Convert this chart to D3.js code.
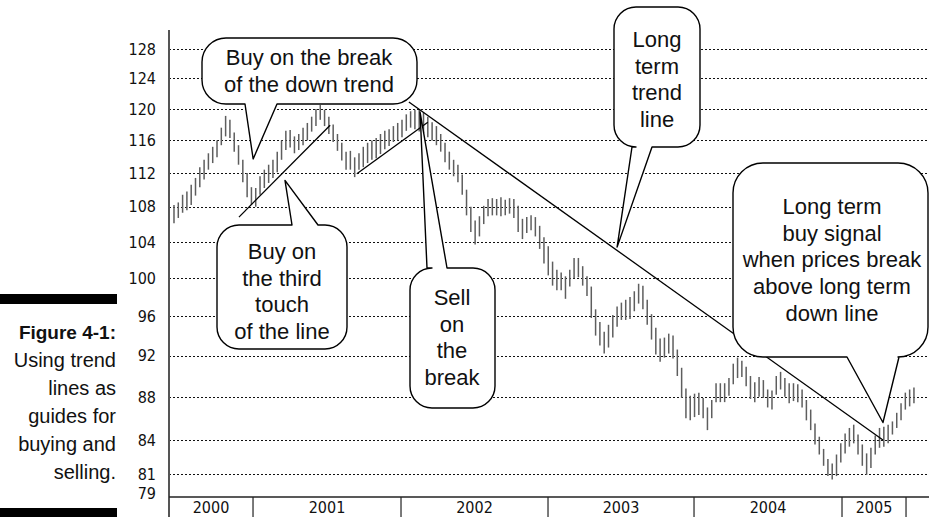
<!DOCTYPE html>
<html>
<head>
<meta charset="utf-8">
<script src="https://cdn.jsdelivr.net/npm/d3@7"></script>
<style>
body { margin: 0; background: #fff; }
svg { display: block; }
.tick-label { font-family: "Liberation Sans Narrow", "DejaVu Sans Condensed", sans-serif; font-size: 16px; fill: #111; }
.callout text { font-family: "Liberation Sans", Arial, sans-serif; font-size: 22px; fill: #111; }
.caption { font-family: "Liberation Sans", Arial, sans-serif; font-size: 20px; fill: #111; }
</style>
</head>
<body>
<div id="chart-area"></div>
<script>
// price bars (high / low), one per bar index
const barHigh = [
	108.2, 108.5, 109.4, 109.8, 110.6, 111.4, 112.7, 113.6, 114.4, 115.2,
	116.0, 117.6, 119.1, 118.6, 117.0, 115.4, 113.6, 112.0, 110.3, 110.2,
	111.6, 112.4, 113.0, 113.6, 114.6, 116.0, 117.2, 117.3, 116.5, 116.8,
	117.6, 118.2, 119.0, 120.0, 120.5, 119.9, 119.0, 118.0, 116.8, 115.7,
	114.6, 114.7, 113.9, 114.4, 115.2, 115.7, 116.0, 116.3, 116.8, 117.2,
	117.4, 117.8, 118.2, 118.6, 119.3, 119.7, 119.9, 119.9, 119.5, 119.0,
	118.3, 117.8, 116.8, 115.7, 114.6, 113.6, 113.0, 111.8, 110.0, 108.0,
	106.4, 106.9, 108.1, 108.9, 109.0, 108.9, 109.1, 108.8, 109.0, 108.9,
	108.1, 106.6, 106.8, 107.0, 106.8, 105.8, 104.5, 103.5, 101.8, 100.9,
	100.6, 100.2, 100.9, 102.2, 102.2, 101.3, 100.2, 99.1, 96.7, 95.4,
	94.4, 95.1, 96.1, 97.0, 97.4, 97.7, 98.0, 98.6, 99.4, 99.2,
	97.7, 96.2, 94.8, 93.7, 93.8, 94.2, 94.0, 92.6, 90.8, 88.8,
	88.1, 88.3, 88.4, 87.9, 87.0, 87.7, 89.3, 89.3, 89.3, 89.8,
	91.2, 91.8, 91.5, 90.9, 90.0, 89.4, 89.9, 89.6, 88.7, 88.6,
	90.0, 90.4, 89.8, 89.3, 89.3, 89.2, 88.7, 87.7, 86.8, 85.5,
	84.3, 83.2, 82.3, 81.9, 82.7, 83.7, 84.6, 85.1, 85.4, 84.5,
	83.6, 82.8, 83.3, 84.4, 85.1, 85.2, 85.4, 85.7, 86.5, 87.4,
	88.4, 88.7, 88.9
]
const barLow = [
	106.1, 106.7, 107.3, 107.6, 108.2, 109.3, 110.3, 111.2, 112.4, 113.2,
	113.9, 115.4, 116.5, 116.3, 114.6, 113.0, 110.9, 109.1, 108.2, 108.0,
	109.4, 110.2, 110.8, 111.4, 112.1, 113.6, 114.8, 115.1, 114.4, 114.8,
	115.4, 116.0, 117.1, 117.8, 118.6, 117.8, 116.8, 115.8, 114.7, 113.5,
	112.4, 112.4, 111.5, 112.4, 112.7, 113.2, 113.6, 113.8, 114.3, 114.9,
	115.3, 115.8, 116.0, 116.4, 117.2, 117.6, 117.4, 117.1, 116.9, 116.4,
	116.0, 115.4, 114.6, 113.3, 112.4, 111.6, 110.9, 109.4, 107.0, 105.1,
	103.7, 104.6, 106.0, 106.9, 107.0, 107.0, 106.9, 107.0, 107.2, 106.7,
	105.1, 104.3, 105.0, 105.3, 104.6, 103.2, 101.6, 100.3, 99.2, 98.7,
	98.7, 97.8, 99.1, 100.0, 100.1, 99.2, 98.1, 95.8, 94.0, 93.0,
	92.2, 92.8, 93.8, 94.9, 95.6, 95.6, 95.7, 96.5, 97.3, 96.7,
	95.1, 93.6, 92.1, 91.4, 91.8, 92.2, 91.7, 90.0, 87.9, 86.0,
	85.8, 86.1, 86.3, 86.0, 84.9, 86.0, 87.5, 87.5, 87.5, 88.1,
	89.2, 89.8, 89.9, 89.0, 87.8, 87.5, 88.0, 87.9, 87.0, 86.8,
	88.2, 88.7, 88.0, 87.4, 87.6, 87.5, 87.0, 85.8, 84.9, 83.6,
	82.7, 81.7, 80.8, 80.5, 80.8, 82.0, 82.8, 83.4, 83.7, 82.7,
	81.7, 80.9, 81.5, 82.7, 83.3, 83.4, 83.7, 84.5, 85.1, 85.8,
	86.8, 87.1, 87.4
]

// axis labels
const priceTicks = [128, 124, 120, 116, 112, 108, 104, 100, 96, 92, 88, 84, 81, 79]
const gridTicks = [128, 124, 120, 116, 112, 108, 104, 100, 96, 92, 88, 84, 81]
const years = ["2000", "2001", "2002", "2003", "2004", "2005"]
// year boundaries, in bar-index units
const yearEdges = [18.37, 52.77, 86.94, 120.88, 155.28, 170.16]

// trend lines drawn on the chart: [barIndex, price] pairs
const trendLines = [
	[[15.1, 106.8], [36.3, 117.9]],
	[[42.5, 111.9], [59.0, 118.3]],
	[[54.6, 120.9], [164.8, 84.0]]
]

const captionLines = ["Using trend", "lines as", "guides for", "buying and", "selling."]

const W = 929, H = 517
const AXIS_X = 169, AXIS_Y = 497

const svg = d3.select("#chart-area").append("svg")
	.attr("width", W)
	.attr("height", H)

const x = d3.scaleLinear()
	.domain([-1.16, 175.5])
	.range([AXIS_X, W])

const y = d3.scaleLog()
	.domain([79, 128])
	.range([AXIS_Y, 49])

// dotted grid, snapped to the pixel grid so the dots stay dark
svg.append("g").selectAll("line")
	.data(gridTicks)
	.enter().append("line")
	.attr("x1", AXIS_X)
	.attr("x2", W)
	.attr("y1", d => Math.round(y(d)) + 0.5)
	.attr("y2", d => Math.round(y(d)) + 0.5)
	.attr("stroke", "#111")
	.attr("stroke-width", 1)
	.attr("stroke-dasharray", "2,2")

// price labels
svg.append("g").selectAll("text")
	.data(priceTicks)
	.enter().append("text")
	.attr("class", "tick-label")
	.attr("x", 156)
	.attr("y", d => Math.min(y(d), 493))
	.attr("dy", "0.36em")
	.attr("text-anchor", "end")
	.text(d => d)

// high-low bars
svg.append("g").selectAll("line")
	.data(barHigh)
	.enter().append("line")
	.attr("x1", (d, i) => x(i))
	.attr("x2", (d, i) => x(i))
	.attr("y1", d => y(d))
	.attr("y2", (d, i) => y(barLow[i]))
	.attr("stroke", "#5e5e5e")
	.attr("stroke-width", 1.5)

// trend lines
svg.append("g").selectAll("line")
	.data(trendLines)
	.enter().append("line")
	.attr("x1", d => x(d[0][0]))
	.attr("y1", d => y(d[0][1]))
	.attr("x2", d => x(d[1][0]))
	.attr("y2", d => y(d[1][1]))
	.attr("stroke", "#000")
	.attr("stroke-width", 1.3)

// callouts: box in pixels, tail tip in data units
const callouts = [
	{box: [202, 38, 417, 104, 24], side: "bottom", base: [245, 277], tip: [18.4, 113.7],
		lines: ["Buy on the break", "of the down trend"], cx: 309, top: 65},
	{box: [217, 225, 347, 349, 22], side: "top", base: [292, 318], tip: [25.8, 111.1],
		lines: ["Buy on", "the third", "touch", "of the line"], cx: 282, top: 259},
	{box: [410, 268, 495, 408, 22], side: "top", base: [427, 447], tip: [57.2, 119.6],
		lines: ["Sell", "on", "the", "break"], cx: 452, top: 305},
	{box: [614, 7, 700, 147, 22], side: "bottom", base: [632, 652], tip: [103.0, 103.4],
		lines: ["Long", "term", "trend", "line"], cx: 657, top: 47},
	{box: [733, 163, 928, 357, 30], side: "bottom", base: [847, 899], tip: [164.8, 85.6],
		lines: ["Long term", "buy signal", "when prices break", "above long term", "down line"], cx: 832, top: 214}
]

function calloutPath(c) {
	const [x0, y0, x1, y1, r] = c.box
	const tx = x(c.tip[0]), ty = y(c.tip[1])
	const p = d3.path()
	p.moveTo(x0 + r, y0)
	if (c.side == "top") {
		p.lineTo(c.base[0], y0)
		p.lineTo(tx, ty)
		p.lineTo(c.base[1], y0)
	}
	p.lineTo(x1 - r, y0)
	p.arcTo(x1, y0, x1, y0 + r, r)
	p.lineTo(x1, y1 - r)
	p.arcTo(x1, y1, x1 - r, y1, r)
	if (c.side == "bottom") {
		p.lineTo(c.base[1], y1)
		p.lineTo(tx, ty)
		p.lineTo(c.base[0], y1)
	}
	p.lineTo(x0 + r, y1)
	p.arcTo(x0, y1, x0, y1 - r, r)
	p.lineTo(x0, y0 + r)
	p.arcTo(x0, y0, x0 + r, y0, r)
	p.closePath()
	return p.toString()
}

const cg = svg.selectAll(".callout")
	.data(callouts)
	.enter().append("g")
	.attr("class", "callout")

cg.append("path")
	.attr("d", calloutPath)
	.attr("fill", "#fff")
	.attr("stroke", "#000")
	.attr("stroke-width", 1.4)
	.attr("stroke-linejoin", "round")

cg.each(function (c) {
	d3.select(this).selectAll("text")
		.data(c.lines)
		.enter().append("text")
		.attr("x", c.cx)
		.attr("y", (d, i) => c.top + i * 26.7)
		.attr("text-anchor", "middle")
		.text(d => d)
})

// axes
svg.append("line")
	.attr("x1", AXIS_X).attr("x2", AXIS_X)
	.attr("y1", 30).attr("y2", H)
	.attr("stroke", "#555")
	.attr("stroke-width", 2)

svg.append("line")
	.attr("x1", AXIS_X).attr("x2", W)
	.attr("y1", AXIS_Y).attr("y2", AXIS_Y)
	.attr("stroke", "#222")
	.attr("stroke-width", 1.5)

svg.append("g").selectAll("line")
	.data(yearEdges)
	.enter().append("line")
	.attr("x1", d => x(d)).attr("x2", d => x(d))
	.attr("y1", AXIS_Y).attr("y2", H)
	.attr("stroke", "#222")
	.attr("stroke-width", 1.2)

const yearStarts = [x.domain()[0]].concat(yearEdges)
svg.append("g").selectAll("text")
	.data(years)
	.enter().append("text")
	.attr("class", "tick-label")
	.attr("x", (d, i) => (x(yearStarts[i]) + x(yearStarts[i + 1])) / 2)
	.attr("y", 513)
	.attr("text-anchor", "middle")
	.text(d => d)

// figure caption on the left
svg.append("rect").attr("x", 0).attr("y", 294).attr("width", 117).attr("height", 10).attr("fill", "#000")
svg.append("rect").attr("x", 0).attr("y", 508).attr("width", 117).attr("height", 9).attr("fill", "#000")

svg.append("text")
	.attr("class", "caption")
	.attr("x", 116)
	.attr("y", 339)
	.attr("text-anchor", "end")
	.attr("font-weight", "bold")
	.style("font-size", "19px")
	.text("Figure 4-1:")

svg.append("g").selectAll("text")
	.data(captionLines)
	.enter().append("text")
	.attr("class", "caption")
	.attr("x", 116)
	.attr("y", (d, i) => 367 + i * 28)
	.attr("text-anchor", "end")
	.text(d => d)
</script>
</body>
</html>
